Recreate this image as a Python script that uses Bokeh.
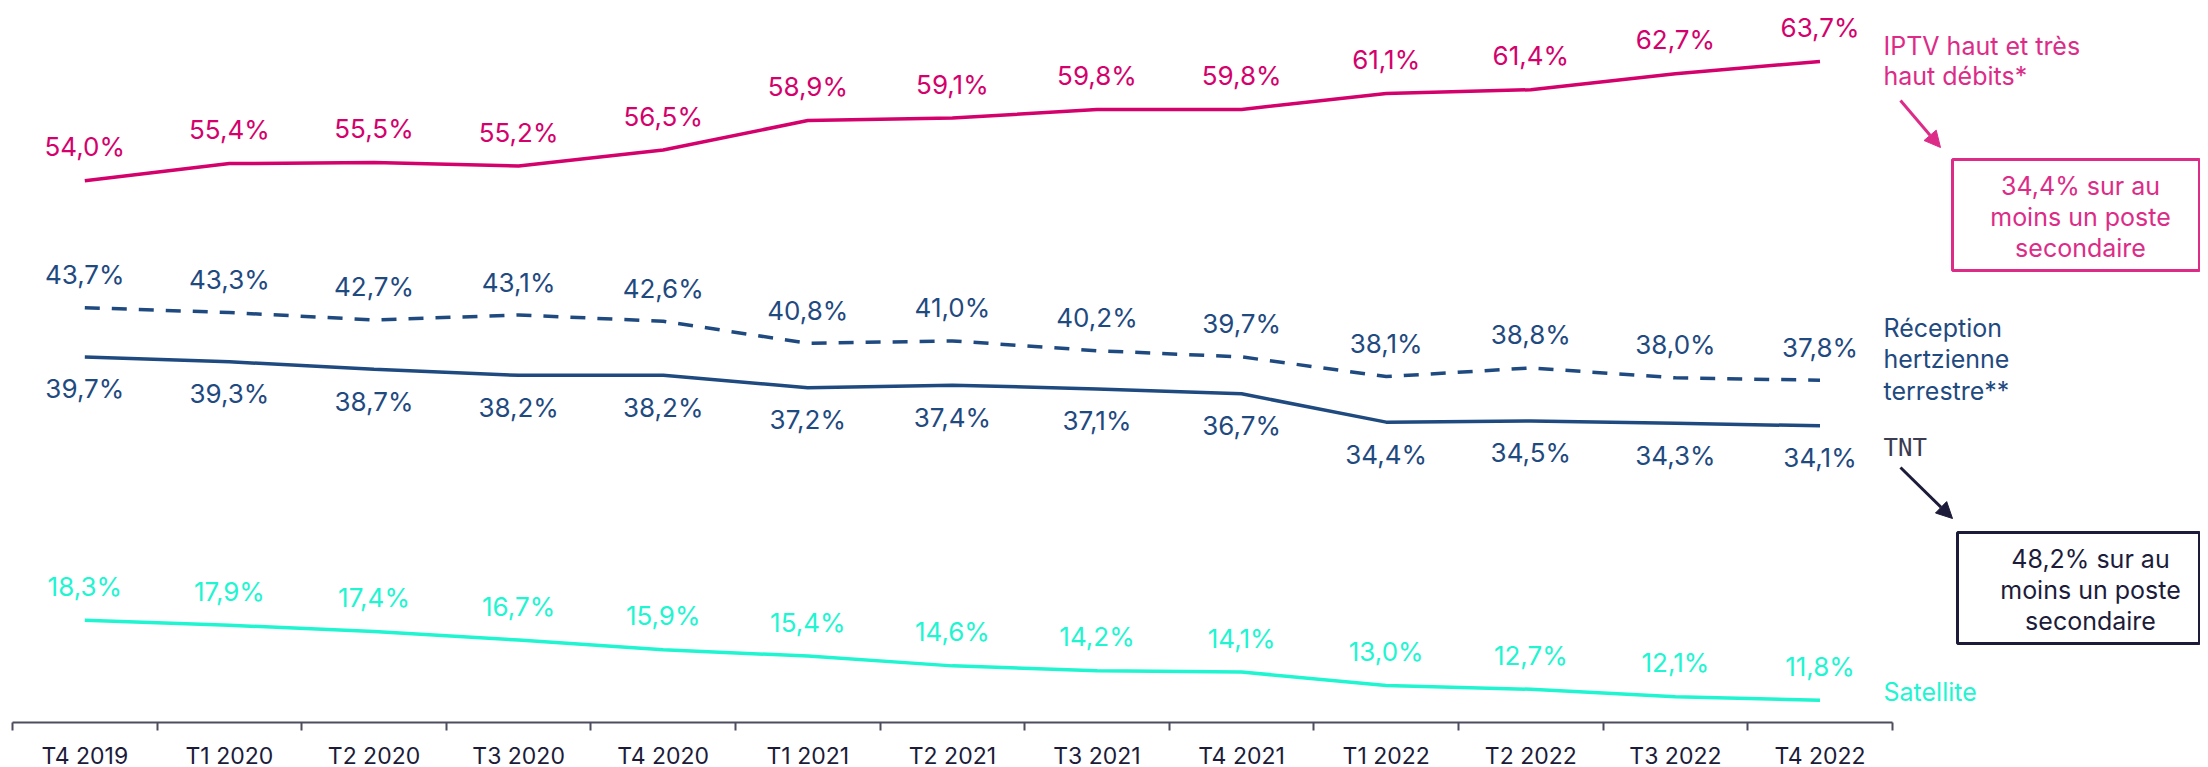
from bokeh.plotting import figure
from bokeh.models import Range1d, FixedTicker, Label, Arrow, NormalHead, BoxAnnotation
from bokeh.embed import file_html
from bokeh.resources import INLINE
from bokeh.core.properties import value

quarters = ["T4 2019", "T1 2020", "T2 2020", "T3 2020", "T4 2020", "T1 2021", "T2 2021",
            "T3 2021", "T4 2021", "T1 2022", "T2 2022", "T3 2022", "T4 2022"]
iptv = [54.0, 55.4, 55.5, 55.2, 56.5, 58.9, 59.1, 59.8, 59.8, 61.1, 61.4, 62.7, 63.7]
hertz = [43.7, 43.3, 42.7, 43.1, 42.6, 40.8, 41.0, 40.2, 39.7, 38.1, 38.8, 38.0, 37.8]
tnt = [39.7, 39.3, 38.7, 38.2, 38.2, 37.2, 37.4, 37.1, 36.7, 34.4, 34.5, 34.3, 34.1]
sat = [18.3, 17.9, 17.4, 16.7, 15.9, 15.4, 14.6, 14.2, 14.1, 13.0, 12.7, 12.1, 11.8]

FONT = "Inter"
PINK = "#d4006c"
PINK2 = "#dc2c88"
NAVY = "#1f4a80"
TEAL = "#1ff5d0"
DARK = "#1c1c3a"
AXIS = "#4d4d5f"

FRAME_W, FRAME_H = 2188, 714
PXU = 144.6
X0 = -0.5
X1 = X0 + FRAME_W / PXU
Y0, Y1 = 10, 68
LEFT_PAGE, TOP_PAGE = 12, 8


def dx(px):
    return X0 + (px - LEFT_PAGE) / PXU


def dy(py):
    return Y1 - (py - TOP_PAGE) * (Y1 - Y0) / FRAME_H


p = figure(frame_width=FRAME_W, frame_height=FRAME_H,
           x_range=Range1d(X0, X1), y_range=Range1d(Y0, Y1),
           output_backend="svg", toolbar_location=None, y_axis_location=None,
           min_border_left=LEFT_PAGE, min_border_right=0, min_border_top=TOP_PAGE,
           min_border_bottom=0)
p.grid.visible = False
p.outline_line_color = None
p.background_fill_color = "white"

xs = list(range(len(quarters)))
ax = p.xaxis[0]
ax.ticker = FixedTicker(ticks=xs, minor_ticks=[i - 0.5 for i in range(len(quarters) + 1)])
ax.major_label_overrides = {i: q for i, q in enumerate(quarters)}
ax.bounds = (-0.5, len(quarters) - 0.5)
ax.major_tick_out = 0
ax.major_tick_in = 0
ax.minor_tick_out = 8
ax.minor_tick_in = 0
ax.axis_line_width = 2
ax.axis_line_color = AXIS
ax.minor_tick_line_color = AXIS
ax.minor_tick_line_width = 2
ax.major_label_text_font = FONT
ax.major_label_text_font_size = "23px"
ax.major_label_text_color = DARK
ax.major_label_standoff = 11


def fmt(v):
    return f"{v:.1f}%".replace(".", ",")


p.line(xs, iptv, line_color=PINK, line_width=3.5)
p.line(xs, hertz, line_color=NAVY, line_width=3.5, line_dash="15 12")
p.line(xs, tnt, line_color=NAVY, line_width=3.5)
p.line(xs, sat, line_color=TEAL, line_width=3.5)

for vals, col, off in [(iptv, PINK, -34), (hertz, NAVY, -33), (tnt, NAVY, 32), (sat, TEAL, -34)]:
    p.text(xs, vals, text=[fmt(v) for v in vals], text_align="center", text_baseline="middle",
           y_offset=off, text_font=value(FONT), text_font_size="26px", text_color=col)


def lab(px, py, txt, col, size="25px", font=FONT, align="left"):
    p.add_layout(Label(x=dx(px), y=dy(py), text=txt, text_align=align, text_baseline="middle",
                       text_font=font, text_font_size=size, text_color=col))


lab(1883, 45, "IPTV haut et très", PINK2)
lab(1883, 75, "haut débits*", PINK2)
lab(1883, 327, "Réception", NAVY)
lab(1883, 358, "hertzienne", NAVY)
lab(1883, 390, "terrestre**", NAVY)
lab(1883, 447, "TNT", "#3b3b52", size="24px", font="DejaVu Sans Mono")
lab(1883, 691, "Satellite", TEAL)

p.add_layout(BoxAnnotation(left=dx(1952), right=dx(2199), top=dy(159), bottom=dy(270),
                           fill_alpha=0, line_color=PINK2, line_alpha=1, line_width=3))
lab(2080, 185, "34,4% sur au", PINK2, align="center")
lab(2080, 216, "moins un poste", PINK2, align="center")
lab(2080, 247, "secondaire", PINK2, align="center")

p.add_layout(BoxAnnotation(left=dx(1957), right=dx(2199), top=dy(532), bottom=dy(643),
                           fill_alpha=0, line_color=DARK, line_alpha=1, line_width=3))
lab(2090, 558, "48,2% sur au", DARK, align="center")
lab(2090, 589, "moins un poste", DARK, align="center")
lab(2090, 620, "secondaire", DARK, align="center")

p.add_layout(Arrow(end=NormalHead(size=16, fill_color=PINK2, line_color=PINK2),
                   x_start=dx(1900), y_start=dy(100), x_end=dx(1940), y_end=dy(147),
                   line_color=PINK2, line_width=3))
p.add_layout(Arrow(end=NormalHead(size=16, fill_color=DARK, line_color=DARK),
                   x_start=dx(1900), y_start=dy(467), x_end=dx(1952), y_end=dy(518),
                   line_color=DARK, line_width=3))

open("out.html", "w").write(file_html(p, INLINE))
